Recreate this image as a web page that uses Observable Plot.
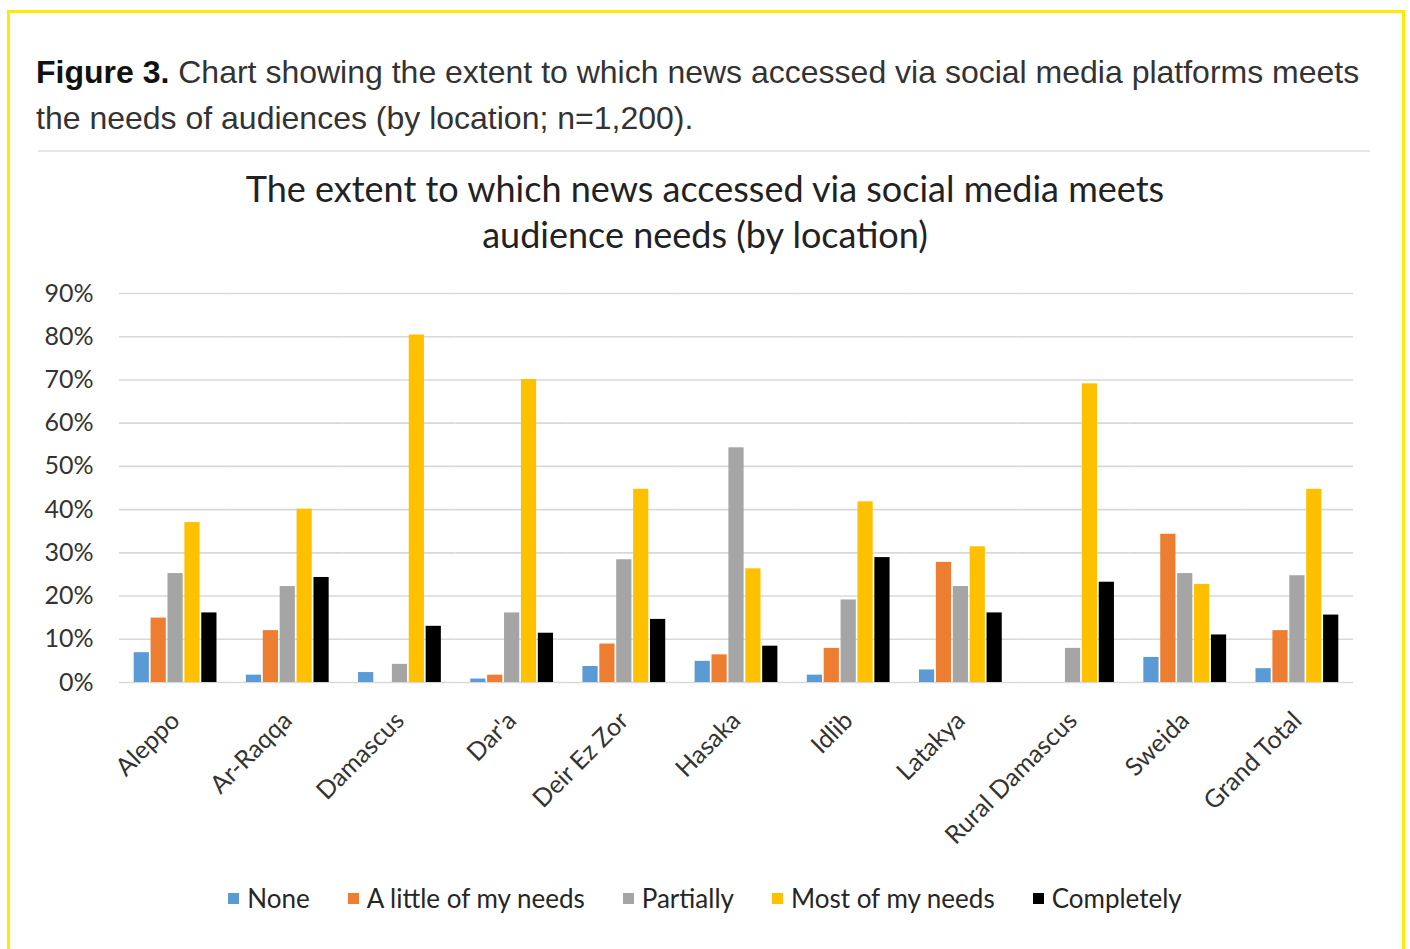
<!DOCTYPE html>
<html>
<head>
<meta charset="utf-8">
<script src="https://cdn.jsdelivr.net/npm/d3@7"></script>
<script src="https://cdn.jsdelivr.net/npm/@observablehq/plot@0.6"></script>
<style>
  html, body { margin: 0; padding: 0; background: #fff; width: 1410px; height: 949px; overflow: hidden; }
  #frame { position: absolute; left: 7px; top: 10px; width: 1392px; height: 960px; border: 3px solid #FFEB00; }
  #caption { position: absolute; left: 36px; top: 49px; font-family: "Liberation Sans", Arial, sans-serif; font-size: 32px; line-height: 46px; color: #333; white-space: nowrap; }
  #caption b { color: #111; }
  #sep { position: absolute; left: 38px; top: 150px; width: 1332px; height: 2px; background: #e6e6e6; }
  #ctitle { position: absolute; left: 0; width: 1410px; top: 165px; text-align: center; font-family: Lato, sans-serif; font-size: 36px; line-height: 46px; color: #222; }
  #chart { position: absolute; left: 0; top: 270px; }
  #legend { position: absolute; left: 0; width: 1410px; top: 882px; display: flex; justify-content: center; gap: 38px; font-family: Lato, sans-serif; font-size: 26px; color: #262626; }
  #legend .it { display: flex; align-items: center; }
  #legend .sw { width: 11px; height: 11px; margin-right: 8px; }
</style>
</head>
<body>
<div id="frame"></div>
<div id="caption"><b>Figure 3.</b> Chart showing the extent to which news accessed via social media platforms meets<br>the needs of audiences (by location; n=1,200).</div>
<div id="sep"></div>
<div id="ctitle">The extent to which news accessed via social media meets<br>audience needs (by location)</div>
<div id="chart"></div>
<div id="legend"></div>
<script>
const locations = ["Aleppo", "Ar-Raqqa", "Damascus", "Dar'a", "Deir Ez Zor", "Hasaka", "Idlib", "Latakya", "Rural Damascus", "Sweida", "Grand Total"];
const seriesNames = ["None", "A little of my needs", "Partially", "Most of my needs", "Completely"];
const seriesColors = ["#5B9BD5", "#ED7D31", "#A5A5A5", "#FFC000", "#000000"];
const none       = [6.9, 1.7, 2.3, 0.8, 3.7, 4.9, 1.7, 2.9, 0, 5.8, 3.2];
const aLittle    = [14.9, 12.0, 0, 1.7, 8.9, 6.4, 7.9, 27.8, 0, 34.3, 12.0];
const partially  = [25.2, 22.2, 4.2, 16.1, 28.4, 54.3, 19.1, 22.2, 7.9, 25.2, 24.7];
const mostNeeds  = [37.0, 40.1, 80.4, 70.1, 44.7, 26.3, 41.8, 31.4, 69.1, 22.7, 44.7];
const completely = [16.1, 24.3, 13.0, 11.4, 14.6, 8.4, 28.9, 16.1, 23.2, 11.0, 15.6];
const yTicks = [0, 0.1, 0.2, 0.3, 0.4, 0.5, 0.6, 0.7, 0.8, 0.9];

const seriesValues = [none, aLittle, partially, mostNeeds, completely];
const data = [];
locations.forEach((loc, i) => {
  seriesNames.forEach((s, j) => {
    data.push({loc, series: s, value: seriesValues[j][i] / 100});
  });
});

const chart = Plot.plot({
  width: 1410,
  height: 602,
  marginLeft: 119,
  marginRight: 57,
  marginTop: 23,
  marginBottom: 190,
  style: {fontFamily: "Lato, sans-serif", fontSize: "25px", color: "#333", background: "transparent"},
  fx: {domain: locations, padding: 0, round: false, label: null, tickRotate: -45, tickSize: 0, tickPadding: 34},
  x: {domain: seriesNames, paddingInner: 0.1, paddingOuter: 0.87, round: false, axis: null},
  y: {domain: [0, 0.9], ticks: yTicks, tickFormat: d3.format(".0%"), tickSize: 0, tickPadding: 26, label: null},
  color: {domain: seriesNames, range: seriesColors},
  marks: [
    Plot.ruleY(yTicks, {stroke: "#d9d9d9", strokeWidth: 1.6}),
    Plot.barY(data, {fx: "loc", x: "series", y: "value", fill: "series"})
  ]
});
document.getElementById("chart").appendChild(chart);

const legend = document.getElementById("legend");
seriesNames.forEach((s, j) => {
  const it = document.createElement("div");
  it.className = "it";
  const sw = document.createElement("span");
  sw.className = "sw";
  sw.style.background = seriesColors[j];
  const tx = document.createElement("span");
  tx.textContent = s;
  it.appendChild(sw);
  it.appendChild(tx);
  legend.appendChild(it);
});
</script>
</body>
</html>
